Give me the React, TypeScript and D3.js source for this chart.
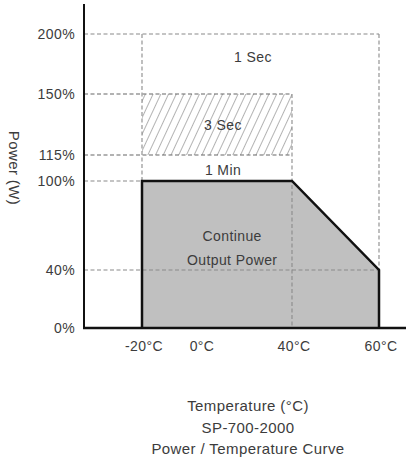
import React, { useRef, useEffect } from "react";
import * as d3 from "d3";

// chart values
const tempTicks = [-20, 0, 40, 60];
const loadTicks = [0, 40, 100, 115, 150, 200];
const curveTemp = [-20, -20, 40, 60, 60];
const curveLoad = [0, 100, 100, 40, 0];
const threeSecTemp = [-20, 40];
const threeSecLoad = [115, 150];
// dashed guides: [load, temp where it stops]
const hGuideLoad = [200, 150, 115, 100, 40];
const hGuideTemp = [60, 40, 40, -20, 60];
// vertical guides: temp, from load, to load
const vGuideTemp = [-20, 40, 60];
const vGuideTop = [200, 150, 200];
const vGuideBottom = [100, 0, 40];

const W = 406;
const H = 460;
const FONT = "'Liberation Sans', Arial, sans-serif";

const App = () => {
  const ref = useRef<SVGSVGElement>(null);

  useEffect(() => {
    const svg = d3.select(ref.current);
    svg.selectAll("*").remove();

    // the picture does not keep an even spacing, so both scales are piecewise
    const x = d3.scaleLinear().domain([-20, 0, 40, 60]).range([142, 200, 292, 379]);
    const y = d3.scaleLinear().domain([0, 40, 100, 115, 150, 200]).range([328, 270, 181, 155, 94, 34]);
    const x0 = 84;

    const defs = svg.append("defs");
    const pat = defs.append("pattern")
      .attr("id", "hatch")
      .attr("patternUnits", "userSpaceOnUse")
      .attr("width", 7)
      .attr("height", 7)
      .attr("patternTransform", "rotate(25)");
    pat.append("line")
      .attr("x1", 3.5).attr("x2", 3.5).attr("y1", 0).attr("y2", 7)
      .attr("stroke", "#a0a0a0").attr("stroke-width", 0.8);

    // 3 sec hatched box
    svg.append("rect")
      .attr("x", x(threeSecTemp[0]))
      .attr("y", y(threeSecLoad[1]))
      .attr("width", x(threeSecTemp[1]) - x(threeSecTemp[0]))
      .attr("height", y(threeSecLoad[0]) - y(threeSecLoad[1]))
      .attr("fill", "url(#hatch)");

    // derating area
    const line = d3.line<number>()
      .x((d, i) => x(curveTemp[i]))
      .y((d) => y(d));
    svg.append("path")
      .attr("d", line(curveLoad) + "Z")
      .attr("fill", "#c0c0c0")
      .attr("stroke", "none");

    // guides
    svg.selectAll("line.hg")
      .data(hGuideLoad)
      .enter().append("line")
      .attr("class", "hg")
      .attr("x1", x0)
      .attr("x2", (d, i) => x(hGuideTemp[i]))
      .attr("y1", (d) => y(d))
      .attr("y2", (d) => y(d))
      .attr("stroke", (d) => (d === 150 || d === 115 ? "#666" : "#8a8a8a"))
      .attr("stroke-width", 1.2)
      .attr("stroke-dasharray", "4,2.5");

    svg.selectAll("line.vg")
      .data(vGuideTemp)
      .enter().append("line")
      .attr("class", "vg")
      .attr("x1", (d) => x(d))
      .attr("x2", (d) => x(d))
      .attr("y1", (d, i) => y(vGuideTop[i]))
      .attr("y2", (d, i) => y(vGuideBottom[i]))
      .attr("stroke", "#8a8a8a")
      .attr("stroke-width", 1.1)
      .attr("stroke-dasharray", "4,2.5");

    // curve outline
    svg.append("path")
      .attr("d", line(curveLoad))
      .attr("fill", "none")
      .attr("stroke", "#111")
      .attr("stroke-width", 2.5);

    // axes
    svg.append("line")
      .attr("x1", x0).attr("x2", x0).attr("y1", 4).attr("y2", y(0) + 1)
      .attr("stroke", "#111").attr("stroke-width", 2);
    svg.append("line")
      .attr("x1", x0 - 1).attr("x2", W).attr("y1", y(0)).attr("y2", y(0))
      .attr("stroke", "#111").attr("stroke-width", 2.5);

    const txt = (sel: any, size: number) =>
      sel.attr("font-family", FONT).attr("font-size", size).attr("fill", "#3c3c3c")
        .attr("letter-spacing", 0.4);

    // y tick labels
    txt(svg.selectAll("text.yt").data(loadTicks).enter().append("text"), 14)
      .attr("class", "yt")
      .attr("x", 75)
      .attr("y", (d: number) => y(d) + 5)
      .attr("text-anchor", "end")
      .text((d: number) => d + "%");

    // x tick labels
    txt(svg.selectAll("text.xt").data(tempTicks).enter().append("text"), 14)
      .attr("class", "xt")
      .attr("x", (d: number) => x(d) + 2)
      .attr("y", 351)
      .attr("text-anchor", "middle")
      .text((d: number) => d + "°C");

    // region labels
    const note = (t: string, tx: number, ty: number) =>
      txt(svg.append("text"), 14)
        .attr("x", tx).attr("y", ty)
        .attr("text-anchor", "middle")
        .text(t);
    note("1 Sec", x(23), 62);
    note("3 Sec", x(10), 130);
    note("1 Min", x(10), 175);
    note("Continue", x(14), 241);
    note("Output Power", x(14), 265);

    // axis title
    txt(svg.append("text"), 15)
      .attr("transform", "translate(9,168) rotate(90)")
      .attr("text-anchor", "middle")
      .text("Power (W)");

    const bottom = ["Temperature (°C)", "SP-700-2000", "Power / Temperature Curve"];
    txt(svg.selectAll("text.bt").data(bottom).enter().append("text"), 15)
      .attr("class", "bt")
      .attr("x", 248)
      .attr("y", (d: string, i: number) => 411 + i * 21.5)
      .attr("text-anchor", "middle")
      .text((d: string) => d);
  }, []);

  return (
    <div style={{ position: "absolute", left: 0, top: 0 }}>
      <svg ref={ref} width={W} height={H} style={{ display: "block", background: "#fff" }} />
    </div>
  );
};

export default App;
